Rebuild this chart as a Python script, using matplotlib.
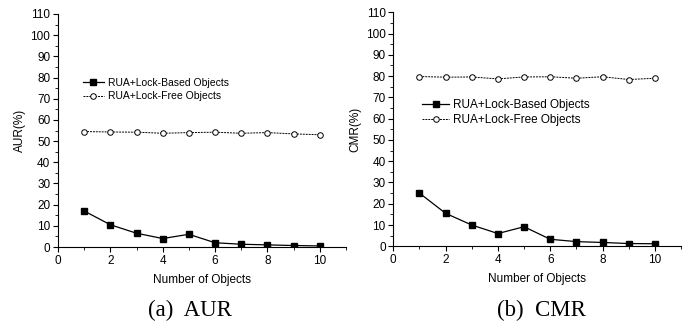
import matplotlib.pyplot as plt
import numpy as np
from matplotlib.ticker import MultipleLocator

n_objects = [1, 2, 3, 4, 5, 6, 7, 8, 9, 10]

aur_lock_based = [17, 10.5, 6.5, 4, 6, 2, 1.3, 1, 0.7, 0.5]
aur_lock_free = [54.5, 54.3, 54.2, 53.7, 54, 54.2, 53.7, 54, 53.4, 53]

cmr_lock_based = [25, 15.5, 10, 6, 9.2, 3.3, 2.2, 1.8, 1.3, 1.2]
cmr_lock_free = [79.8, 79.5, 79.6, 78.7, 79.6, 79.7, 79, 79.7, 78.4, 79]

labels = ['RUA+Lock-Based Objects', 'RUA+Lock-Free Objects']

plt.rcParams['font.family'] = 'Liberation Sans'

fig = plt.figure(figsize=(6.96, 3.31), dpi=100)
ax1 = fig.add_axes([58/696, 1-247/331, 288/696, 233/331])
ax2 = fig.add_axes([393.3/696, 1-246.3/331, 287.7/696, 234/331])


def draw(ax, based, free, ylabel, caption, cap_x, leg_anchor, leg_size, hlen):
    ax.plot(n_objects, based, color='black', lw=0.9, marker='s', ms=4.5,
            label=labels[0])
    ax.plot(n_objects, free, color='black', lw=0.7, ls=(0, (2, 1)), marker='o',
            ms=4, mfc='white', mew=0.7, label=labels[1])
    ax.set_xlim(0, 11)
    ax.set_ylim(0, 110)
    ax.xaxis.set_major_locator(MultipleLocator(2))
    ax.xaxis.set_minor_locator(MultipleLocator(1))
    ax.yaxis.set_major_locator(MultipleLocator(10))
    ax.yaxis.set_minor_locator(MultipleLocator(5))
    ax.set_xticks([0, 2, 4, 6, 8, 10])
    for s in ['top', 'right']:
        ax.spines[s].set_visible(False)
    for s in ['bottom', 'left']:
        ax.spines[s].set_linewidth(0.8)
    ax.tick_params(which='major', direction='out', length=3.5, width=0.8,
                   labelsize=8.5, pad=2)
    ax.tick_params(which='minor', direction='out', length=2, width=0.6)
    ax.set_xlabel('Number of Objects', fontsize=8.5, labelpad=5)
    ax.set_ylabel(ylabel, fontsize=8.5, labelpad=3)
    ax.legend(loc='upper left', bbox_to_anchor=leg_anchor, frameon=False,
              fontsize=leg_size, borderpad=0, borderaxespad=0,
              handlelength=hlen, handletextpad=0.35, labelspacing=0.3)
    fig.text(cap_x, 1 - 310/331, caption, ha='center', va='center',
             fontsize=16.5, family='Liberation Serif')


draw(ax1, aur_lock_based, aur_lock_free, 'AUR(%)', '(a)  AUR', 190/696,
     (0.087, 0.725), 7.5, 2.0)
draw(ax2, cmr_lock_based, cmr_lock_free, 'CMR(%)', '(b)  CMR', 541/696,
     (0.10, 0.63), 8.5, 2.3)

fig.savefig('out.png', dpi=100)
